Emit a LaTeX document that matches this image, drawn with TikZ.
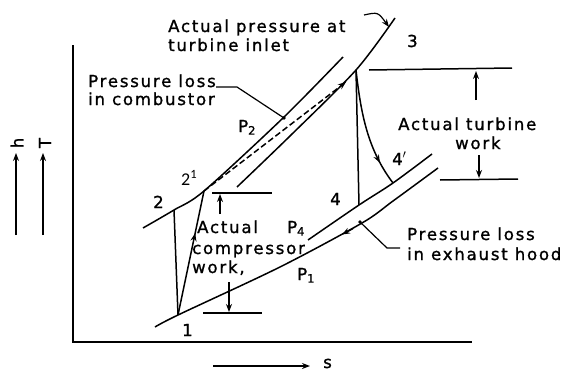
\documentclass[tikz,border=0pt]{standalone}
\usepackage{fontspec}
\setmainfont{DejaVu Sans}[LetterSpace=11,FakeBold=1.2]
\newfontfamily\carlfont{Carlito}
\usetikzlibrary{arrows.meta,decorations.markings}
\begin{document}
\begin{tikzpicture}[x=1pt,y=-1pt,
  curve/.style={line width=1.5pt},
  axis/.style={line width=1.7pt},
  tip/.style={-{Stealth[length=8pt,width=6pt]}},
  midarrow/.style={postaction={decorate},decoration={markings,mark=at position #1 with {\arrow{Stealth[length=8pt,width=6pt]}}}},
  lbl/.style={inner sep=0pt,anchor=base west,font=\fontsize{16.5}{19}\selectfont},
]
\useasboundingbox (0,0) rectangle (576,372);
% state points
\coordinate (p1) at (178,315);
\coordinate (p2) at (174,210);
\coordinate (p2p) at (204,191);
\coordinate (p3) at (356,70);
\coordinate (p4) at (359,205);
\coordinate (p4p) at (393,183);
\coordinate (dend) at (346,82);
% axes
\coordinate (origin) at (73,342);
\coordinate (ytop) at (73,45);
\coordinate (xend) at (472,342);
\draw[axis] (ytop) -- (origin) -- (xend);
% axis arrows
\coordinate (sa) at (213,366);
\coordinate (sb) at (310,366);
\draw[curve,tip] (sa) -- (sb);
\node[lbl] (slab) at (323,368) {s};
\coordinate (ha) at (16,235);
\coordinate (hb) at (16,153);
\coordinate (ta) at (43,235);
\coordinate (tb) at (43,153);
\draw[curve,tip] (ha) -- (hb);
\draw[curve,tip] (ta) -- (tb);
\node[inner sep=0pt,rotate=90,font=\fontsize{16.5}{19}\selectfont] (hlab) at (17,143) {h};
\node[inner sep=0pt,rotate=90,font=\fontsize{16.5}{19}\selectfont] (tlab) at (45,143) {T};
% pressure lines
\draw[curve] plot[smooth] coordinates {(155,327) (p1) (280,267) (362,223) (393,201) (438,168)};
\draw[curve] plot[smooth] coordinates {(308,240) (p4) (p4p) (432,154)};
\draw[curve] plot[smooth] coordinates {(143,228) (p2) (p2p) (283,118) (343,57)};
\draw[curve] plot[smooth] coordinates {(237,187) (290,136) (p3) (395,18)};
% processes
\draw[curve] (p1) -- (p2);
\draw[curve,midarrow=0.66] (p1) -- (p2p);
\draw[curve,dash pattern=on 6pt off 3pt,tip] (p2p) -- (dend);
\draw[curve] (p3) -- (p4);
\draw[curve,midarrow=0.8] (p3) .. controls (361,115) and (368,150) .. (p4p);
% arrow on exhaust line
\coordinate (ea) at (353,228.5);
\coordinate (eb) at (342,234.5);
\draw[curve,tip] (ea) -- (eb);
% compressor work
\coordinate (cw1a) at (212,193);
\coordinate (cw1b) at (272,193);
\coordinate (cw2a) at (203,313);
\coordinate (cw2b) at (262,313);
\draw[curve] (cw1a) -- (cw1b);
\draw[curve] (cw2a) -- (cw2b);
\coordinate (cu1) at (220,214);
\coordinate (cu2) at (220,194);
\draw[curve,tip] (cu1) -- (cu2);
\coordinate (cd1) at (229,282);
\coordinate (cd2) at (229,312);
\draw[curve,tip] (cd1) -- (cd2);
% turbine work
\coordinate (tw1a) at (369,70);
\coordinate (tw1b) at (512,68);
\coordinate (tw2a) at (440,180);
\coordinate (tw2b) at (518,179);
\draw[curve] (tw1a) -- (tw1b);
\draw[curve] (tw2a) -- (tw2b);
\coordinate (tu1) at (476,100);
\coordinate (tu2) at (476,71);
\draw[curve,tip] (tu1) -- (tu2);
\coordinate (td1) at (479,155);
\coordinate (td2) at (479,178);
\draw[curve,tip] (td1) -- (td2);
% leaders
\coordinate (la1) at (364,15);
\coordinate (la2) at (389,27);
\draw[line width=1.2pt,tip] (la1) .. controls (378,12) .. (la2);
\coordinate (lc1) at (216,87);
\coordinate (lc2) at (237,87);
\coordinate (lc3) at (284,118);
\draw[line width=1.2pt] (lc1) -- (lc2) -- (lc3);
\fill (lc3) circle (1.8pt);
\coordinate (le1) at (360,222);
\coordinate (le2) at (387,248);
\coordinate (le3) at (400,248);
\draw[line width=1.2pt] (le1) -- (le2) -- (le3);
\fill (le1) circle (1.8pt);
% texts
\node[lbl] (tA1) at (168,32) {Actual pressure at};
\node[lbl] (tA2) at (168,51) {turbine inlet};
\node[lbl] (tB1) at (88,87) {Pressure loss};
\node[lbl] (tB2) at (88,105) {in combustor};
\node[lbl] (tC1) at (398,130) {Actual turbine};
\node[lbl] (tC2) at (455,149) {work};
\node[lbl] (tD1) at (197,233) {Actual};
\node[lbl] (tD2) at (192,254) {compressor};
\node[lbl] (tD3) at (192,273) {work,};
\node[lbl] (tE1) at (407,240) {Pressure loss};
\node[lbl] (tE2) at (407,260) {in exhaust hood};
% point labels
\node[lbl] (n1) at (182,336) {1};
\node[lbl] (n2) at (153,208) {2};
\node[lbl,font=\carlfont\fontsize{18}{20}\selectfont] (n2p) at (181,185) {2\textsuperscript{1}};
\node[lbl] (n3) at (407,47) {3};
\node[lbl] (n4) at (330,205) {4};
\node[lbl] (n4p) at (392,165) {4$'$};
\node[lbl] (nP2) at (238,132) {P\textsubscript{2}};
\node[lbl] (nP4) at (287,233) {P\textsubscript{4}};
\node[lbl] (nP1) at (297,280) {P\textsubscript{1}};
\end{tikzpicture}
\end{document}
